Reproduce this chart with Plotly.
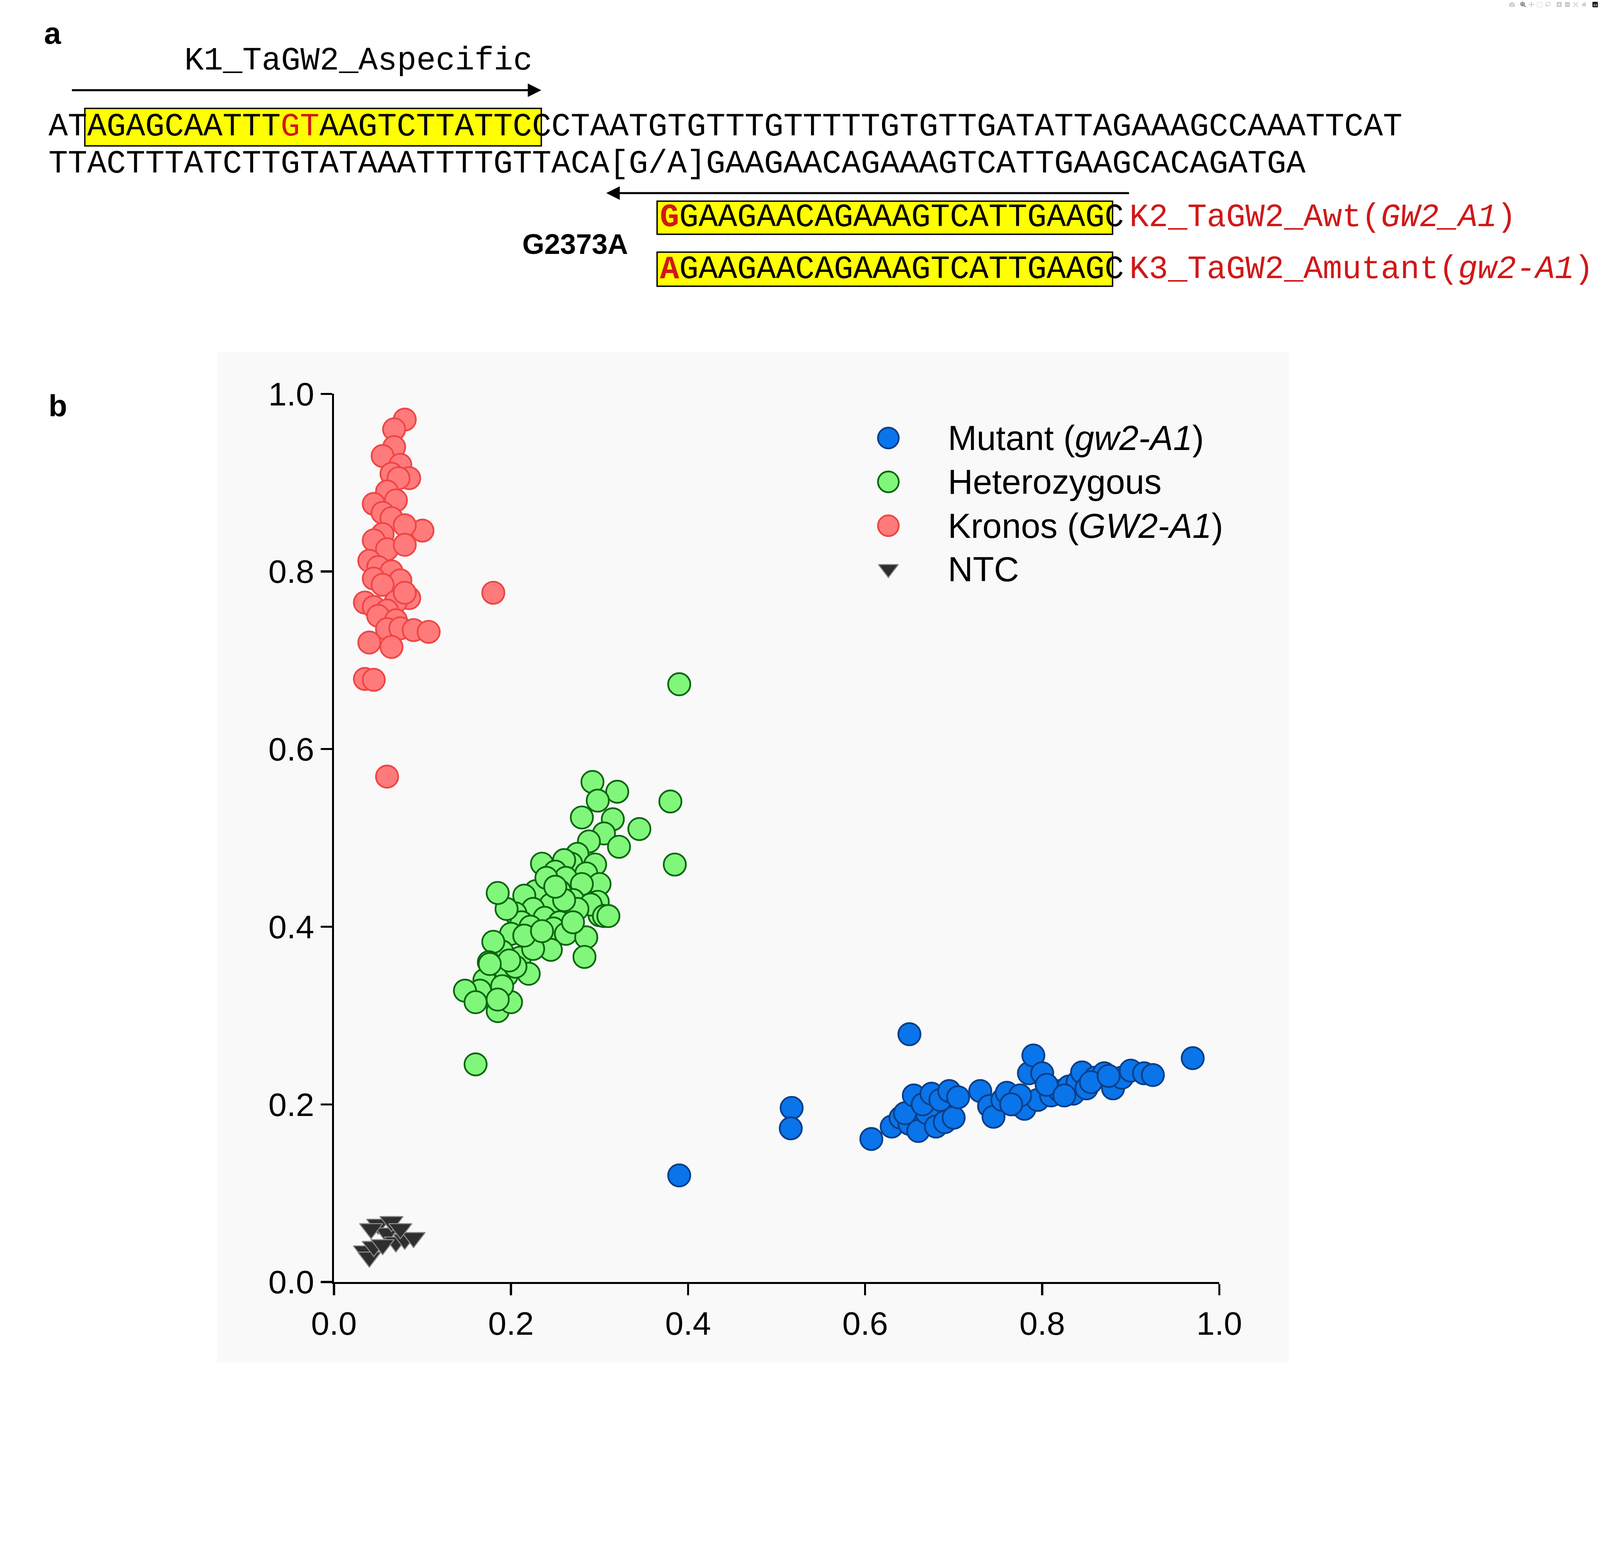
import plotly.graph_objects as go

W, H = 4617, 3986

# --- data ---
kronos_x = [0.080, 0.068, 0.068, 0.055, 0.075, 0.065, 0.085, 0.073, 0.060, 0.070, 0.045, 0.055,
            0.065, 0.100, 0.080, 0.055, 0.045, 0.060, 0.080, 0.040, 0.050, 0.065, 0.045, 0.075,
            0.055, 0.085, 0.035, 0.045, 0.070, 0.080, 0.060, 0.050, 0.070, 0.060, 0.075, 0.090,
            0.107, 0.040, 0.065, 0.035, 0.045, 0.180, 0.060]
kronos_y = [0.971, 0.960, 0.940, 0.930, 0.920, 0.910, 0.905, 0.905, 0.890, 0.880, 0.876, 0.866,
            0.860, 0.846, 0.852, 0.842, 0.835, 0.825, 0.830, 0.812, 0.805, 0.800, 0.792, 0.790,
            0.785, 0.770, 0.765, 0.760, 0.766, 0.776, 0.756, 0.750, 0.745, 0.735, 0.736, 0.734,
            0.732, 0.720, 0.715, 0.679, 0.678, 0.776, 0.569]

het_x = [0.390, 0.380, 0.385, 0.345, 0.292, 0.320, 0.298, 0.315, 0.280, 0.305, 0.322, 0.288,
         0.275, 0.268, 0.295, 0.260, 0.285, 0.300, 0.235, 0.250, 0.262, 0.280, 0.270, 0.255,
         0.298, 0.242, 0.228, 0.300, 0.265, 0.245, 0.215, 0.225, 0.238, 0.290, 0.275, 0.255,
         0.205, 0.212, 0.222, 0.248, 0.262, 0.285, 0.305, 0.195, 0.185, 0.200, 0.230, 0.245,
         0.270, 0.210, 0.190, 0.180, 0.175, 0.195, 0.225, 0.283, 0.220, 0.170, 0.165, 0.148,
         0.160, 0.185, 0.200, 0.190, 0.205, 0.185, 0.160, 0.240, 0.260, 0.215, 0.235, 0.250,
         0.310, 0.198, 0.176]
het_y = [0.673, 0.541, 0.470, 0.510, 0.563, 0.552, 0.542, 0.521, 0.523, 0.505, 0.490, 0.496,
         0.482, 0.471, 0.470, 0.475, 0.460, 0.448, 0.471, 0.462, 0.455, 0.448, 0.430, 0.440,
         0.428, 0.450, 0.440, 0.413, 0.415, 0.425, 0.435, 0.420, 0.410, 0.425, 0.420, 0.405,
         0.415, 0.405, 0.400, 0.398, 0.392, 0.388, 0.412, 0.420, 0.438, 0.392, 0.383, 0.374,
         0.405, 0.365, 0.372, 0.383, 0.360, 0.345, 0.375, 0.366, 0.347, 0.340, 0.328, 0.328,
         0.315, 0.305, 0.315, 0.333, 0.355, 0.318, 0.245, 0.455, 0.430, 0.390, 0.395, 0.445,
         0.412, 0.362, 0.358]

mut_x = [0.390, 0.517, 0.516, 0.607, 0.650, 0.970, 0.630, 0.640, 0.650, 0.660, 0.670, 0.680,
         0.690, 0.700, 0.645, 0.655, 0.665, 0.675, 0.685, 0.695, 0.705, 0.730, 0.740, 0.745,
         0.755, 0.760, 0.770, 0.780, 0.785, 0.790, 0.795, 0.800, 0.810, 0.820, 0.830, 0.835,
         0.840, 0.845, 0.850, 0.860, 0.870, 0.880, 0.890, 0.900, 0.915, 0.925, 0.775, 0.765,
         0.805, 0.825, 0.855, 0.875]
mut_y = [0.120, 0.196, 0.173, 0.161, 0.279, 0.252, 0.175, 0.185, 0.178, 0.170, 0.190, 0.175,
         0.180, 0.185, 0.190, 0.210, 0.200, 0.212, 0.205, 0.215, 0.208, 0.215, 0.198, 0.186,
         0.205, 0.213, 0.200, 0.195, 0.235, 0.255, 0.205, 0.235, 0.210, 0.215, 0.220, 0.212,
         0.225, 0.236, 0.218, 0.230, 0.235, 0.218, 0.230, 0.238, 0.235, 0.233, 0.210, 0.200,
         0.222, 0.210, 0.225, 0.232]

ntc_x = [0.035, 0.040, 0.045, 0.050, 0.060, 0.065, 0.070, 0.080, 0.090, 0.055, 0.042, 0.075]
ntc_y = [0.035, 0.028, 0.040, 0.065, 0.055, 0.068, 0.045, 0.048, 0.050, 0.042, 0.060, 0.060]

legend_labels = ["Mutant (<i>gw2-A1</i>)", "Heterozygous", "Kronos (<i>GW2-A1</i>)", "NTC"]
ticks = [0.0, 0.2, 0.4, 0.6, 0.8, 1.0]

BLUE = dict(color="#0a74ea", line=dict(color="#0b3f86", width=5))
GREEN = dict(color="#80f77a", line=dict(color="#0b6610", width=5))
RED = dict(color="#ff7b7b", line=dict(color="#f04545", width=5))
GREY = dict(color="#2e2e2e", line=dict(color="#8a8a8a", width=3))
styles = [(BLUE, "circle"), (GREEN, "circle"), (RED, "circle"), (GREY, "triangle-down")]


def px(x):
    return x / W


def py(y):
    return 1 - y / H


fig = go.Figure()
for xs, ys, (st, sym), sz in [(ntc_x, ntc_y, styles[3], 58), (mut_x, mut_y, styles[0], 64),
                              (het_x, het_y, styles[1], 64), (kronos_x, kronos_y, styles[2], 64)]:
    fig.add_trace(go.Scatter(x=xs, y=ys, mode="markers", showlegend=False, cliponaxis=False,
                             marker=dict(size=sz, symbol=sym, **st)))

# hand-made legend (marker + text)
leg_y = [1244, 1374, 1504, 1632]
for lab, (st, sym), yy in zip(legend_labels, styles, leg_y):
    fig.add_trace(go.Scatter(x=[(2571 - 924) / 2630], y=[(3746 - yy) / 2633], mode="markers",
                             showlegend=False, cliponaxis=False,
                             marker=dict(size=60 if sym == "circle" else 50, symbol=sym, **st)))
    fig.add_annotation(xref="paper", yref="paper", x=px(2745), y=py(yy), text=lab,
                       showarrow=False, xanchor="left", yanchor="middle",
                       font=dict(family="Liberation Sans, Arial", size=100, color="black"))

axis = dict(range=[0, 1], tickvals=ticks, ticktext=[f"{t:.1f}" for t in ticks],
            showgrid=False, zeroline=False, showline=True, linecolor="black", linewidth=6,
            ticks="outside", ticklen=32, tickwidth=6, tickcolor="black",
            tickfont=dict(family="Liberation Sans, Arial", size=95, color="black"))

fig.update_layout(
    width=W, height=H, margin=dict(l=0, r=0, t=0, b=0),
    paper_bgcolor="white", plot_bgcolor="rgba(0,0,0,0)",
    xaxis=dict(domain=[924 / W, 3554 / W], **axis),
    yaxis=dict(domain=[1 - 3746 / H, 1 - 1113 / H], **axis),
)

# light panel behind plot b
fig.add_shape(type="rect", xref="paper", yref="paper", x0=px(577), x1=px(3761), y0=py(3986),
              y1=py(990), fillcolor="#f9f9f9", line=dict(width=0), layer="below")

# --- panel a: sequence ---
MONO = "Liberation Mono, Courier New, monospace"
FS = 93
RED_T = "#d01818"


def txt(x, y, s, color="black", size=FS, family=MONO, anchor="left"):
    fig.add_annotation(xref="paper", yref="paper", x=px(x), y=py(y), text=s, showarrow=False,
                       xanchor=anchor, yanchor="middle",
                       font=dict(family=family, size=size, color=color))


def box(x0, x1, y0, y1):
    fig.add_shape(type="rect", xref="paper", yref="paper", x0=px(x0), x1=px(x1), y0=py(y1),
                  y1=py(y0), fillcolor="#ffff00", line=dict(color="black", width=4), layer="below")


def arrow(xtail, xhead, y):
    fig.add_annotation(xref="paper", yref="paper", x=px(xhead), y=py(y), ax=xtail - xhead, ay=0,
                       axref="pixel", ayref="pixel", text="", showarrow=True, arrowhead=2,
                       arrowsize=1.3, arrowwidth=6, arrowcolor="black")


x_start = 74
box(184, 1540, 267, 378)
box(1884, 3237, 542, 640)
box(1884, 3237, 693, 794)

row1 = ("AT" + "AGAGCAATTT" + "<span style='color:%s'>GT</span>" % RED_T + "AAGTCTTATTCC"
        + "CTAATGTGTTTGTTTTTGTGTTGATATTAGAAAGCCAAATTCAT")
txt(x_start, 322, row1)
txt(x_start, 432, "TTACTTTATCTTGTATAAATTTTGTTACA[G/A]GAAGAACAGAAAGTCATTGAAGCACAGATGA")
txt(997, 127, "K1_TaGW2_Aspecific", anchor="center")
arrow(184, 1540, 213)
arrow(3243, 1733, 518)

txt(1890, 591, "<b><span style='color:%s'>G</span></b>GAAGAACAGAAAGTCATTGAAGC" % RED_T)
txt(1890, 745, "<b><span style='color:%s'>A</span></b>GAAGAACAGAAAGTCATTGAAGC" % RED_T)
txt(3285, 591, "K2_TaGW2_Awt(<i>GW2_A1</i>)", color=RED_T)
txt(3285, 745, "K3_TaGW2_Amutant(<i>gw2-A1</i>)", color=RED_T)
txt(1640, 669, "<b>G2373A</b>", family="Liberation Sans, Arial", size=82, anchor="center")

txt(89, 44, "<b>a</b>", family="Liberation Sans, Arial", size=88, anchor="center")
txt(104, 1149, "<b>b</b>", family="Liberation Sans, Arial", size=88, anchor="center")

# fit the fixed-size figure into the window if the viewport is smaller
fit_js = """
document.body.style.margin = '0';
document.body.style.overflow = 'hidden';
var d = document.getElementById('{plot_id}');
var s = Math.min(window.innerWidth / %d, window.innerHeight / %d);
if (s < 1) { d.style.transformOrigin = '0 0'; d.style.transform = 'scale(' + s + ')'; }
""" % (W, H)

fig.write_html("out.html", post_script=fit_js)
